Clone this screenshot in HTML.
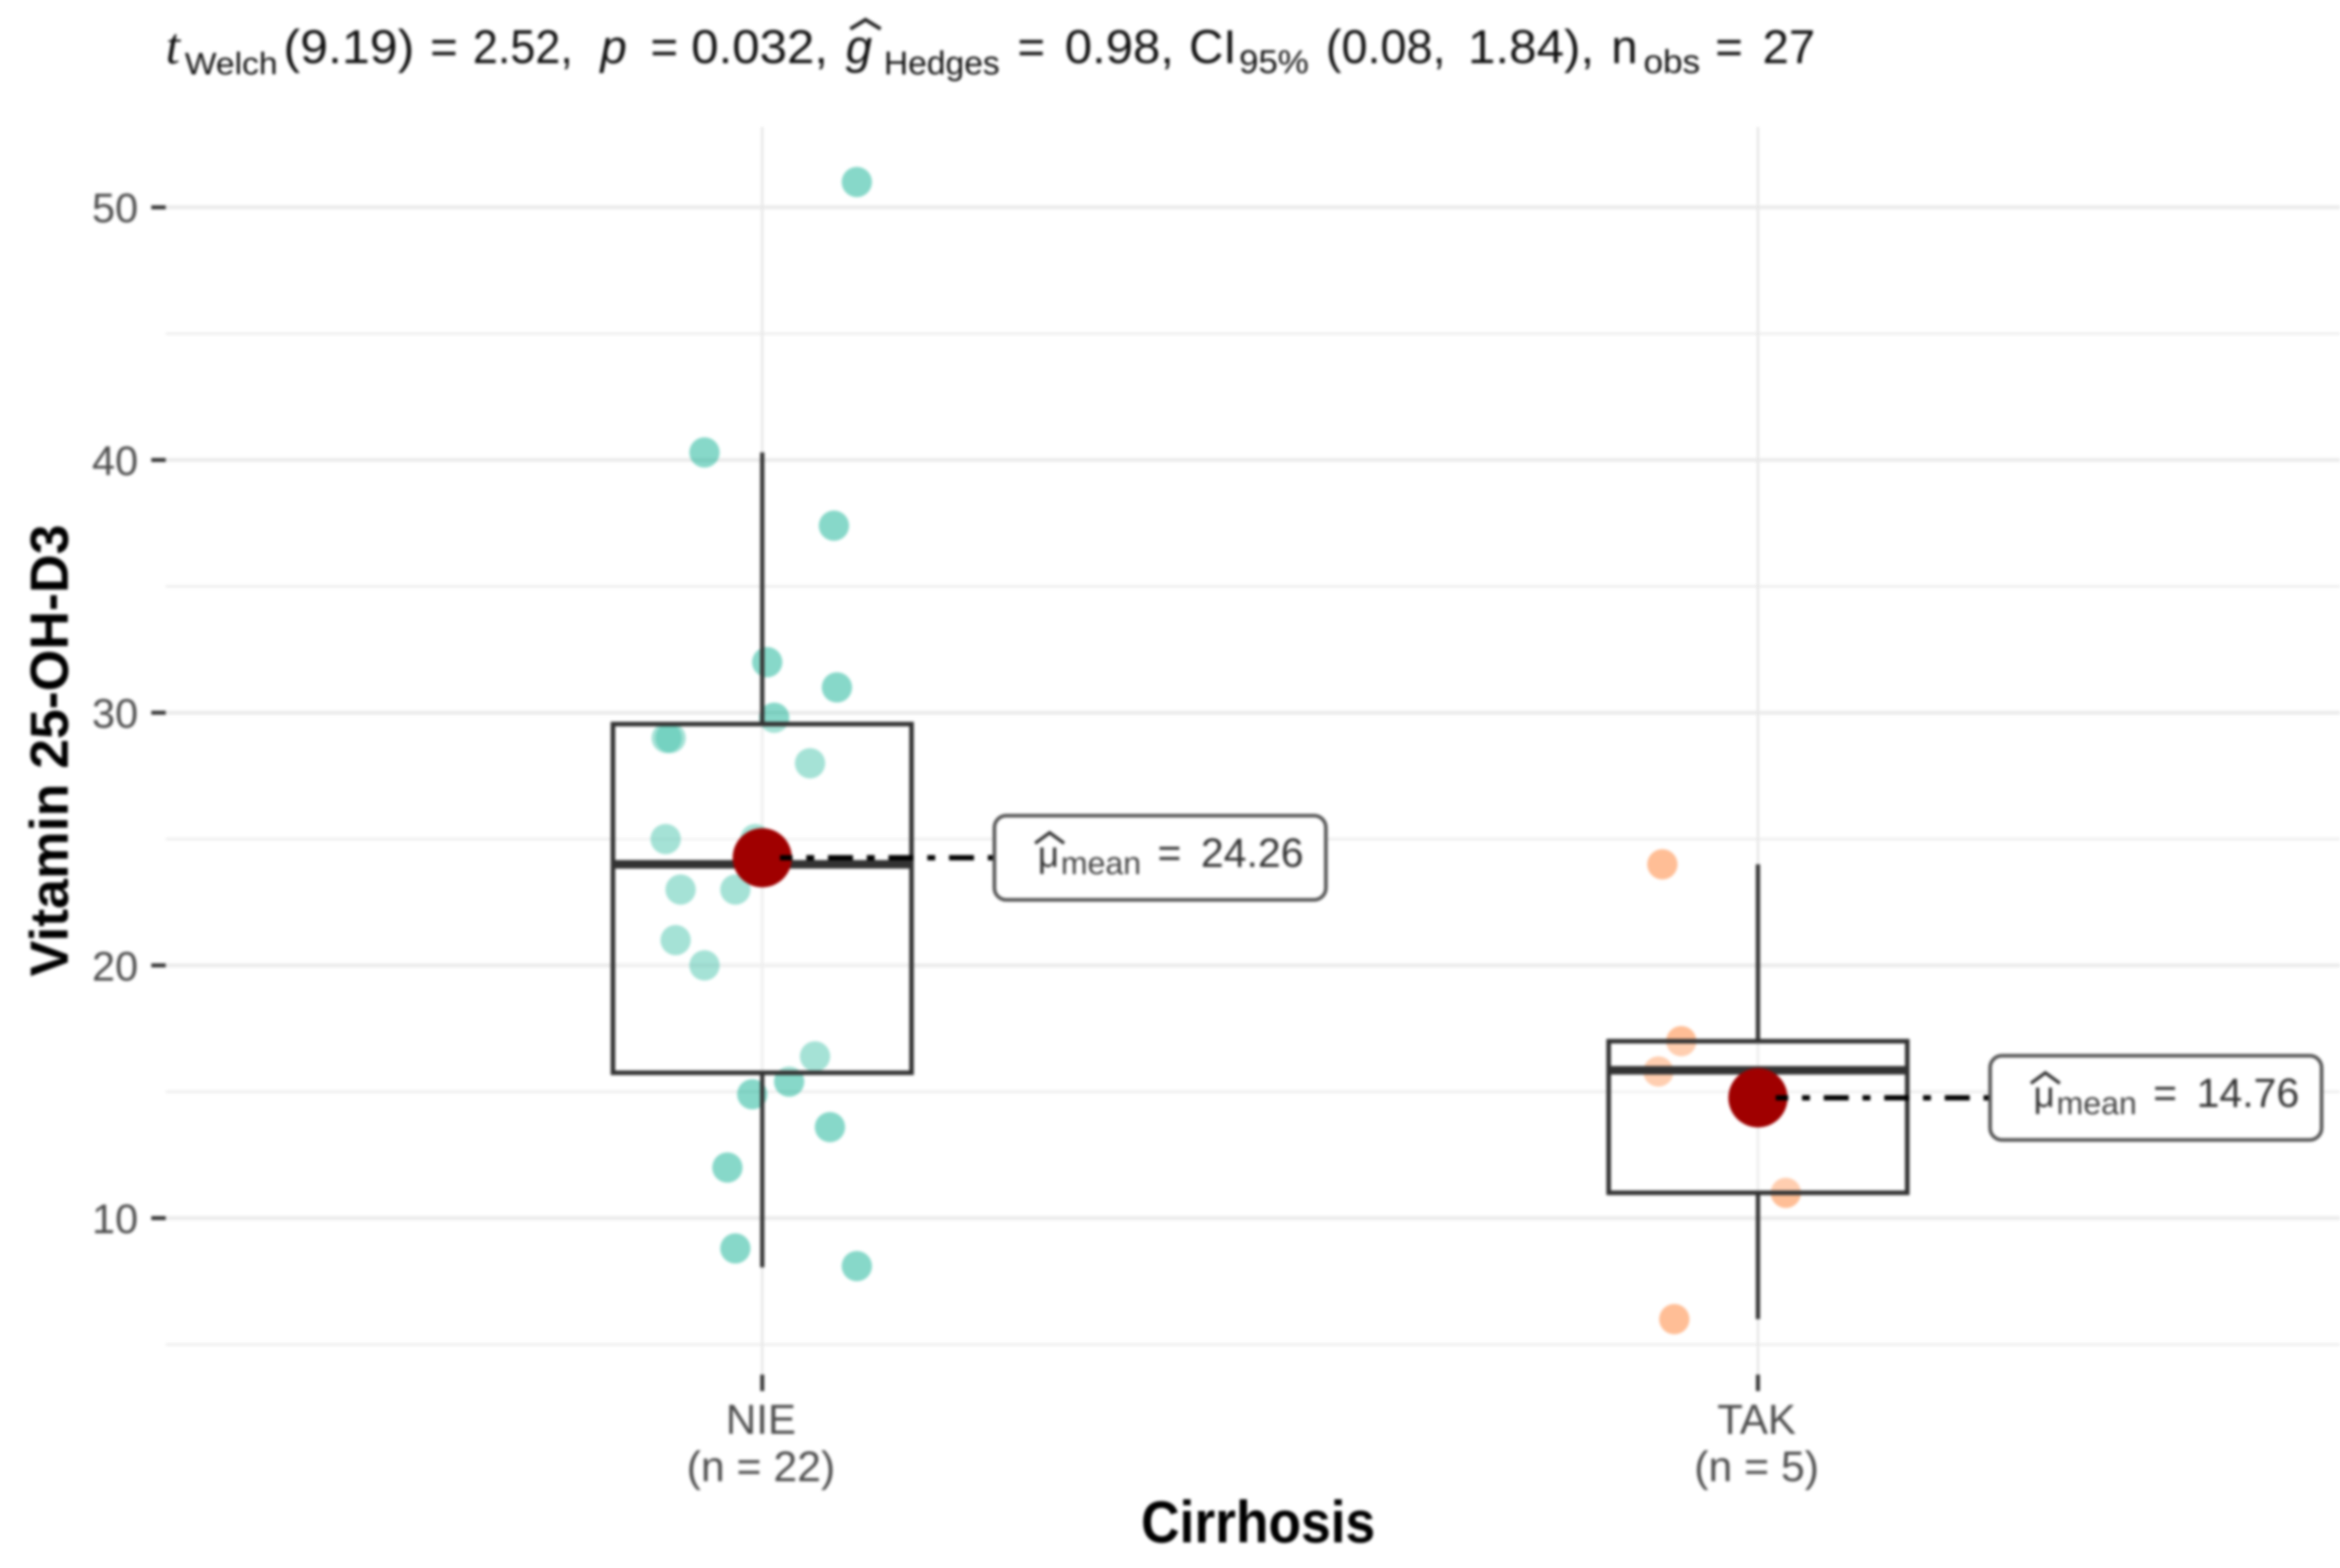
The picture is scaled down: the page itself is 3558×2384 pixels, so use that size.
<!DOCTYPE html>
<html lang="en">
<head>
<meta charset="utf-8">
<title>Vitamin 25-OH-D3 by Cirrhosis</title>
<style>
html,body{margin:0;padding:0;background:#fff;}
body{width:3558px;height:2384px;overflow:hidden;}
svg{display:block;filter:blur(2.2px);font-family:"Liberation Sans",sans-serif;}
</style>
</head>
<body>
<svg id="chart" xmlns="http://www.w3.org/2000/svg" width="3558" height="2384" viewBox="0 0 3558 2384">
  <rect x="0" y="0" width="3558" height="2384" fill="#ffffff"/>
  <g id="grid"></g>
  <g id="points"></g>
  <g id="boxes"></g>
  <g id="means"></g>
  <g id="axes"></g>

  <g fill="#111" font-size="72">
    <text x="252" y="96" font-family="'Liberation Serif',serif" font-style="italic" font-size="78">t</text>
    <text x="281" y="113" font-size="47" textLength="141" lengthAdjust="spacingAndGlyphs">Welch</text>
    <text x="431" y="96" textLength="199" lengthAdjust="spacingAndGlyphs">(9.19)</text>
    <text x="654" y="96">=</text>
    <text x="719" y="96" textLength="152" lengthAdjust="spacingAndGlyphs">2.52,</text>
    <text x="913" y="96" font-style="italic">p</text>
    <text x="989" y="96">=</text>
    <text x="1051" y="96" textLength="208" lengthAdjust="spacingAndGlyphs">0.032,</text>
    <text x="1286" y="96" font-style="italic">g</text>
    <polyline points="1293,44 1316,30 1339,44" fill="none" stroke="#222" stroke-width="5.5"/>
    <text x="1344" y="113" font-size="50" textLength="176" lengthAdjust="spacingAndGlyphs">Hedges</text>
    <text x="1547" y="96">=</text>
    <text x="1619" y="96" textLength="166" lengthAdjust="spacingAndGlyphs">0.98,</text>
    <text x="1808" y="96">CI</text>
    <text x="1884" y="111" font-size="50" textLength="106" lengthAdjust="spacingAndGlyphs">95%</text>
    <text x="2016" y="96" textLength="182" lengthAdjust="spacingAndGlyphs">(0.08,</text>
    <text x="2232" y="96" textLength="192" lengthAdjust="spacingAndGlyphs">1.84),</text>
    <text x="2450" y="96">n</text>
    <text x="2499" y="111" font-size="50" textLength="86" lengthAdjust="spacingAndGlyphs">obs</text>
    <text x="2608" y="96">=</text>
    <text x="2680" y="96" textLength="80" lengthAdjust="spacingAndGlyphs">27</text>
  </g>

  <text x="1913" y="2345" text-anchor="middle" font-size="90" font-weight="bold" fill="#000" textLength="356" lengthAdjust="spacingAndGlyphs">Cirrhosis</text>
  <text transform="translate(103,1141) rotate(-90)" text-anchor="middle" font-size="82" font-weight="bold" fill="#000" textLength="687" lengthAdjust="spacingAndGlyphs">Vitamin 25-OH-D3</text>
</svg>

<script>
// ---- chart data ----
const categories = ["NIE", "TAK"];
const groupSizes = [22, 5];
const yMajorTicks = [10, 20, 30, 40, 50];
const yMinorTicks = [5, 15, 25, 35, 45];

const nieValues = [51, 40.3, 37.4, 32, 31, 29.8, 29, 29, 28, 25, 25, 23, 23, 21, 20, 16.4, 15.4, 14.9, 13.6, 12, 8.8, 8.1];
const nieJitter = [0.095, -0.058, 0.072, 0.005, 0.075, 0.012, -0.096, -0.092, 0.048, -0.097, -0.007, -0.082, -0.027, -0.087, -0.058, 0.053, 0.027, -0.010, 0.068, -0.035, -0.027, 0.095];
const takValues = [24, 17, 15.8, 11, 6];
const takJitter = [-0.096, -0.077, -0.100, 0.028, -0.084];

const whiskerLow = [8.05, 6];
const quartile1 = [15.75, 11];
const medians = [24, 15.85];
const quartile3 = [29.55, 17];
const whiskerHigh = [40.3, 24];
const means = [24.26, 14.76];

// ---- scales ----
const SVGNS = "http://www.w3.org/2000/svg";
const panel = { left: 252, right: 3558, top: 193, bottom: 2090 };
const catStart = 1159, catStep = 1514;
const pxPerUnit = 38.42, yRef = 1852, yRefValue = 10;
function xScale(catPos) { return catStart + catPos * catStep; }
function yScale(v) { return yRef - (v - yRefValue) * pxPerUnit; }

function make(tag, attrs, parent, text) {
  const el = document.createElementNS(SVGNS, tag);
  for (const k in attrs) el.setAttribute(k, attrs[k]);
  if (text !== undefined) el.textContent = text;
  parent.appendChild(el);
  return el;
}

const gridG = document.getElementById("grid");
const pointsG = document.getElementById("points");
const boxesG = document.getElementById("boxes");
const meansG = document.getElementById("means");
const axesG = document.getElementById("axes");

// ---- grid ----
yMinorTicks.forEach(function (t) {
  const el = make("line", { x1: panel.left, x2: panel.right, y1: yScale(t), y2: yScale(t), stroke: "#ececec", "stroke-width": 3.5 }, gridG);
  
  
});
yMajorTicks.forEach(function (t) {
  const el = make("line", { x1: panel.left, x2: panel.right, y1: yScale(t), y2: yScale(t), stroke: "#ebebeb", "stroke-width": 6 }, gridG);
  
  
});
categories.forEach(function (c, i) {
  const el = make("line", { x1: xScale(i), x2: xScale(i), y1: panel.top, y2: panel.bottom, stroke: "#e8e8e8", "stroke-width": 4 }, gridG);
  
  
});

// ---- raw points ----
nieValues.forEach(function (v, i) {
  const el = make("circle", { cx: xScale(0 + nieJitter[i]), cy: yScale(v), r: 23, fill: "rgb(0,172,140)", "fill-opacity": 0.47 }, pointsG);
  
  
});
takValues.forEach(function (v, i) {
  const el = make("circle", { cx: xScale(1 + takJitter[i]), cy: yScale(v), r: 23, fill: "rgb(255,125,45)", "fill-opacity": 0.5 }, pointsG);
  
  
});

// ---- boxplots ----
const boxHalf = 227;
categories.forEach(function (c, i) {
  const cx = xScale(i);
  const ink = "#333333";
  const upper = make("line", { x1: cx, x2: cx, y1: yScale(quartile3[i]), y2: yScale(whiskerHigh[i]), stroke: ink, "stroke-width": 6.5 }, boxesG);
  
  
  const lower = make("line", { x1: cx, x2: cx, y1: yScale(quartile1[i]), y2: yScale(whiskerLow[i]), stroke: ink, "stroke-width": 6.5 }, boxesG);
  
  
  const box = make("rect", { x: cx - boxHalf, y: yScale(quartile3[i]), width: boxHalf * 2, height: yScale(quartile1[i]) - yScale(quartile3[i]), fill: "#ffffff", "fill-opacity": 0.25, stroke: ink, "stroke-width": 7 }, boxesG);
  
  
  const med = make("line", { x1: cx - boxHalf, x2: cx + boxHalf, y1: yScale(medians[i]), y2: yScale(medians[i]), stroke: ink, "stroke-width": 13 }, boxesG);
  
  
});

// ---- means and their labels ----
const labelLeftOffset = 353, labelWidth = 504, labelHeight = 128;
categories.forEach(function (c, i) {
  const cx = xScale(i), cy = yScale(means[i]);
  const left = cx + labelLeftOffset;

  const dot = make("circle", { cx: cx, cy: cy, r: 45, fill: "#a00000" }, meansG);
  
  

  const conn = make("line", { x1: cx + 27, x2: left, y1: cy, y2: cy, stroke: "#000", "stroke-width": 8, "stroke-dasharray": "38 21 12 21", "stroke-dashoffset": 19 }, meansG);
  
  

  const rect = make("rect", { x: left, y: cy - labelHeight / 2, width: labelWidth, height: labelHeight, rx: 18, ry: 18, fill: "#fff", stroke: "#555", "stroke-width": 5.5 }, meansG);
  
  

  const base = cy + 14;
  const mu = make("text", { x: left + 66, y: base, "font-size": 56, fill: "#333" }, meansG, "\u03BC");
  
  

  const hat = make("polyline", { points: (left + 62) + "," + (cy - 22) + " " + (left + 84) + "," + (cy - 38) + " " + (left + 106) + "," + (cy - 22), fill: "none", stroke: "#333", "stroke-width": 5 }, meansG);
  
  

  const sub = make("text", { x: left + 101, y: base + 11, "font-size": 48, fill: "#444", textLength: 122, lengthAdjust: "spacingAndGlyphs" }, meansG, "mean");
  
  

  const eq = make("text", { x: left + 248, y: base, "font-size": 62, fill: "#333" }, meansG, "=");
  
  

  const val = make("text", { x: left + 314, y: base, "font-size": 62, fill: "#333", textLength: 156, lengthAdjust: "spacingAndGlyphs" }, meansG, means[i].toFixed(2));
  
  
});

// ---- axes ----
yMajorTicks.forEach(function (t) {
  const tick = make("line", { x1: 230, x2: panel.left, y1: yScale(t), y2: yScale(t), stroke: "#333", "stroke-width": 6 }, axesG);
  
  
  const lab = make("text", { x: 210, y: yScale(t) + 23, "text-anchor": "end", "font-size": 63, fill: "#4d4d4d" }, axesG, String(t));
  
  
});
categories.forEach(function (c, i) {
  const cx = xScale(i);
  const tick = make("line", { x1: cx, x2: cx, y1: panel.bottom, y2: panel.bottom + 25, stroke: "#333", "stroke-width": 6 }, axesG);
  
  
  const lab = make("text", { x: cx - 2, y: 2180, "text-anchor": "middle", "font-size": 64, fill: "#4d4d4d" }, axesG, c);
  
  
  const nLab = make("text", { x: cx - 2, y: 2252, "text-anchor": "middle", "font-size": 65, fill: "#4d4d4d" }, axesG, "(n = " + groupSizes[i] + ")");
  
  
});
</script>
</body>
</html>
